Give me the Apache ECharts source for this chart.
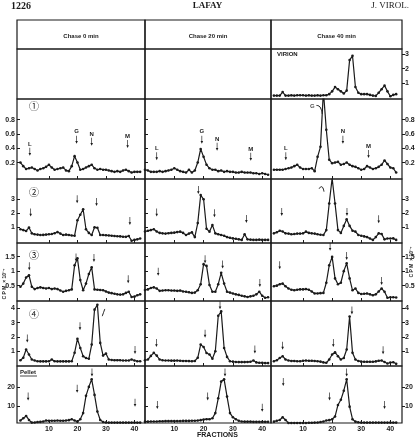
<!DOCTYPE html>
<html>
<head>
<meta charset="utf-8">
<script src="https://cdn.jsdelivr.net/npm/echarts@6/dist/echarts.min.js"></script>
<style>
html,body{margin:0;padding:0;background:#fff}
#main{width:415px;height:439px}
</style>
</head>
<body>
<div id="main"></div>
<script>
// fraction numbers (x) shared by every profile
var fractions = [0,1,2,3,4,5,6,7,8,9,10,11,12,13,14,15,16,17,18,19,20,21,22,23,24,25,26,27,28,29,30,31,32,33,34,35,36,37,38,39,40,41,42];
var chases = ['Chase 0 min', 'Chase 20 min', 'Chase 40 min'];
var xTicks = [10, 20, 30, 40];

// row 0 : virion (chase 40 only)
var virion40 = [0.1,0.1,0.1,0.35,0.1,0.1,0.12,0.1,0.12,0.12,0.12,0.1,0.12,0.1,0.1,0.12,0.1,0.12,0.12,0.2,0.4,0.7,0.55,0.4,0.25,0.45,2.6,2.9,0.7,0.3,0.2,0.2,0.2,0.15,0.1,0.08,0.3,0.55,0.8,0.4,0.05,0.15,0.2];
// row 1
var p1chase0 = [0.2,0.15,0.11,0.12,0.13,0.11,0.09,0.11,0.12,0.14,0.17,0.13,0.1,0.11,0.12,0.13,0.09,0.08,0.15,0.29,0.2,0.1,0.11,0.13,0.15,0.17,0.12,0.1,0.11,0.1,0.1,0.09,0.08,0.07,0.08,0.07,0.09,0.1,0.08,0.06,0.07,0.07,0.07];
var p1chase20 = [0.1,0.09,0.07,0.07,0.07,0.08,0.07,0.08,0.09,0.1,0.12,0.1,0.08,0.07,0.06,0.1,0.06,0.09,0.2,0.39,0.28,0.17,0.12,0.1,0.1,0.08,0.09,0.07,0.08,0.07,0.07,0.06,0.06,0.07,0.06,0.06,0.06,0.05,0.05,0.04,0.05,0.04,0.03];
var p1chase40 = [0.1,0.1,0.1,0.1,0.11,0.12,0.13,0.15,0.17,0.13,0.11,0.11,0.11,0.12,0.08,0.28,0.42,1.2,0.66,0.24,0.19,0.2,0.21,0.17,0.18,0.2,0.17,0.15,0.14,0.12,0.1,0.11,0.15,0.13,0.11,0.12,0.14,0.17,0.23,0.18,0.13,0.12,0.06];
// row 2
var p2chase0 = [0.86,0.8,0.74,0.98,0.57,0.5,0.48,0.45,0.46,0.48,0.5,0.52,0.58,0.66,0.55,0.45,0.48,0.45,0.42,0.4,1.5,1.9,2.29,0.86,0.6,0.45,1.0,0.97,0.45,0.45,0.43,0.42,0.4,0.38,0.36,0.35,0.33,0.32,0.38,0.04,0.1,0.14,0.2];
var p2chase20 = [0.7,0.75,0.8,0.86,0.7,0.6,0.57,0.55,0.58,0.6,0.62,0.66,0.69,0.6,0.45,0.55,0.64,0.3,1.3,3.3,3.0,0.9,0.69,1.16,0.57,0.5,0.45,0.4,0.3,0.25,0.21,0.18,0.14,0.1,0.5,0.14,0.12,0.1,0.1,0.12,0.1,0.1,0.1];
var p2chase40 = [0.57,0.65,0.76,0.7,0.57,0.55,0.5,0.52,0.55,0.55,0.57,0.69,0.6,0.57,0.55,0.5,0.47,0.45,0.8,2.7,4.5,2.7,0.8,0.6,1.1,1.57,1.1,0.76,0.69,0.45,0.4,0.35,0.3,0.2,0.1,0.3,0.57,0.52,0.14,0.2,0.2,0.21,0.1];
// row 3
var p3chase0 = [0.46,0.57,0.78,0.86,0.46,0.38,0.42,0.44,0.42,0.4,0.42,0.38,0.4,0.38,0.33,0.29,0.32,0.34,0.37,1.2,1.44,0.69,0.34,0.57,0.9,1.13,0.37,0.36,0.35,0.34,0.3,0.26,0.24,0.22,0.2,0.19,0.2,0.25,0.29,0.11,0.12,0.17,0.2];
var p3chase20 = [0.35,0.37,0.42,0.44,0.4,0.32,0.33,0.34,0.34,0.33,0.33,0.32,0.33,0.3,0.29,0.27,0.25,0.26,0.34,0.55,1.24,1.18,0.52,0.29,0.29,0.55,0.94,0.57,0.29,0.26,0.23,0.2,0.18,0.15,0.13,0.11,0.13,0.15,0.2,0.29,0.15,0.08,0.1];
var p3chase40 = [0.48,0.5,0.55,0.57,0.48,0.4,0.36,0.34,0.36,0.37,0.37,0.38,0.36,0.3,0.23,0.23,0.24,0.25,0.6,1.2,1.49,0.75,0.55,0.6,1.0,1.27,0.75,0.34,0.4,0.25,0.21,0.22,0.23,0.2,0.17,0.2,0.3,0.4,0.29,0.08,0.1,0.1,0.09];
// row 4
var p4chase0 = [0.4,0.57,1.14,0.8,0.45,0.38,0.33,0.32,0.32,0.32,0.33,0.45,0.33,0.32,0.32,0.32,0.32,0.32,0.33,0.91,1.88,1.25,0.68,0.55,0.5,1.48,3.9,4.24,1.6,0.72,0.86,0.45,0.42,0.4,0.4,0.4,0.38,0.38,0.38,0.45,0.38,0.33,0.33];
var p4chase20 = [0.4,0.45,0.7,0.91,0.72,0.45,0.4,0.38,0.38,0.37,0.37,0.38,0.36,0.35,0.35,0.34,0.33,0.35,0.57,1.48,1.32,0.9,0.8,0.5,1.02,3.48,3.78,1.25,0.63,0.33,0.3,0.28,0.27,0.27,0.27,0.28,0.29,0.38,0.25,0.22,0.22,0.2,0.2];
var p4chase40 = [0.33,0.4,0.55,0.68,0.45,0.38,0.35,0.35,0.33,0.33,0.36,0.38,0.36,0.36,0.35,0.33,0.3,0.25,0.22,0.45,0.8,0.95,0.68,0.45,0.55,1.14,3.43,0.91,0.45,0.35,0.3,0.29,0.29,0.29,0.29,0.32,0.36,0.38,0.28,0.17,0.24,0.26,0.15];
// row 5 : pellet
var pelletChase0 = [2.3,3.5,4.7,2.6,1.2,1.3,1.5,1.6,1.8,2.3,2.2,2.2,2.2,2.3,2.2,2.2,2.3,2.5,3.0,2.3,1.7,3.0,6.2,15.3,20,24,15.8,7,2.6,1.5,1.3,1.2,1.2,1.2,1.2,1.2,1.2,1.2,1.2,1.2,1.2,1.2,1.2];
var pelletChase20 = [1.7,1.7,1.8,1.8,1.8,1.9,1.9,2,2,2,2,2,2,2.1,2.1,2.1,2.2,2.2,2.3,2.5,2.8,3,3,3.5,6.2,14,22.8,24,14.9,6.2,4,3,2.2,1.8,1.7,1.7,1.7,1.6,1.6,1.6,1.6,1.6,1.6];
var pelletChase40 = [1.7,2.2,2.6,4,2.6,1,1,1,1,1,1,1,1.1,1.1,1.2,1.3,1.5,1.8,2.3,2.5,3,4.4,10.5,13.2,18,24,9.6,3,1.7,1.4,1.2,1.2,1.2,1.2,1.2,1.2,1.2,1.2,1.2,1.2,1.2,1.2,1.2];

// marker arrows [label, fraction, value]
var arrows1 = [
  [['L',3.3,0.35],['G',19.7,0.52],['N',25,0.49],['M',37.6,0.46]],
  [['L',4,0.29],['G',19.4,0.52],['N',24.6,0.42],['M',36.1,0.28]],
  [['L',4.1,0.29],['N',23.7,0.52],['M',32.5,0.32]]
];
var arrows2 = [
  [['',3.6,2.06],['',19.9,3.0],['',26.7,2.8],['',38.4,1.45]],
  [['',4,2.06],['',18.2,3.66],['',23.7,2.0],['',34.6,1.6]],
  [['',2.7,2.1],['',25.1,2.1],['',36,1.57]]
];
var arrows3 = [
  [['',3.1,1.17],['',19.5,1.47],['',25.8,1.45],['',37.8,0.72]],
  [['',4.5,0.98],['',20.5,1.41],['',26.5,1.23],['',39.2,0.59]],
  [['',2,1.2],['',19.3,1.84],['',25,1.52],['',37,0.66]]
];
var arrows4 = [
  [['',2.4,1.9],['',20.9,2.76],['',40.2,1.1]],
  [['',3.9,1.59],['',20.5,2.24],['',25.6,4.2],['',37.5,1.14]],
  [['',3,1.41],['',20.4,1.59],['',26.8,3.85],['',37.5,1.09]]
];
var arrows5 = [
  [['',2.7,14.9],['',19.9,19],['',25.1,27.6],['',40.2,11.6]],
  [['',4.2,10.5],['',21.4,15],['',27.3,27.6],['',40,9]],
  [['',3.2,22.6],['',19.1,15],['',25,27.6],['',38,10.5]]
];
// little hand-drawn hooks pointing at a peak [row, col, points]
var hooks = [
  [1, 2, [[14.6,1.0],[15.8,0.98],[16.6,0.88]]],
  [2, 2, [[15.4,3.75],[16.4,3.9],[17.2,3.55]]],
  [4, 0, [[28.7,3.45],[29.6,3.95]]]
];
var hookLabels = [[1, 2, 'G', 13.2, 0.99]];

var yTicks0 = [1,2,3];
var yTicks1 = [0.2,0.4,0.6,0.8];
var yTicks2 = [1,2,3];
var yTicks3 = [0.5,1,1.5];
var yTicks4 = [1,2,3,4];
var yTicks5 = [10,20];

var profiles = [
  [null, null, virion40],
  [p1chase0, p1chase20, p1chase40],
  [p2chase0, p2chase20, p2chase40],
  [p3chase0, p3chase20, p3chase40],
  [p4chase0, p4chase20, p4chase40],
  [pelletChase0, pelletChase20, pelletChase40]
];
var arrowSets = [[[],[],[]], arrows1, arrows2, arrows3, arrows4, arrows5];
var yTickSets = [yTicks0, yTicks1, yTicks2, yTicks3, yTicks4, yTicks5];

// layout
var colX = [[17,145],[145,271],[271,402]];
var rowY = [[49,99],[99,179],[179,243],[243,301],[301,366],[366,423]];
var xRange = [[-1.2,43.7],[0,43],[-1,44]];
var yRange = [[-0.14,3.38],[-0.03,1.09],[-0.12,4.45],[-0.03,1.97],[0,4.5],[1,31]];

var ink = '#1a1a1a';
var arrowPath = 'path://M3,0 L5,0 L5,13 L8,13 L4,20 L0,13 L3,13 Z';

var grids = [], xAxes = [], yAxes = [], series = [];
function gi(r, c) { return r * 3 + c; }

for (var r = 0; r < 6; r++) {
  for (var c = 0; c < 3; c++) {
    var g = gi(r, c);
    var hasData = !!profiles[r][c];
    grids.push({
      left: colX[c][0], top: rowY[r][0],
      width: colX[c][1] - colX[c][0], height: rowY[r][1] - rowY[r][0],
      show: true, borderColor: ink, borderWidth: 1.2,
      backgroundColor: 'transparent', outerBoundsMode: 'none'
    });
    xAxes.push({
      gridIndex: g, type: 'value', min: xRange[c][0], max: xRange[c][1],
      show: hasData, position: 'bottom',
      axisLine: {show: false, onZero: false}, splitLine: {show: false},
      axisTick: {show: r > 0, inside: true, length: 3, customValues: xTicks, lineStyle: {color: ink, width: 1}},
      axisLabel: {show: r === 5, customValues: xTicks, fontSize: 7, fontWeight: 'bold',
                  fontFamily: 'Liberation Sans', color: ink, margin: 3}
    });
    yAxes.push({
      gridIndex: g, type: 'value', min: yRange[r][0], max: yRange[r][1],
      show: hasData || (r > 0), position: c === 2 ? 'right' : 'left',
      axisLine: {show: false, onZero: false}, splitLine: {show: false},
      axisTick: {show: true, inside: c !== 2, length: 3, customValues: yTickSets[r], lineStyle: {color: ink, width: 1}},
      axisLabel: {show: c !== 1, customValues: yTickSets[r], fontSize: 7, fontWeight: 'bold',
                  fontFamily: 'Liberation Sans', color: ink, margin: c === 2 ? 3 : 2}
    });
    if (!hasData) continue;
    var pts = profiles[r][c].map(function (v, i) { return [fractions[i], v]; });
    series.push({
      type: 'line', xAxisIndex: g, yAxisIndex: g, data: pts,
      symbol: 'circle', symbolSize: 2.6, clip: true, silent: true,
      lineStyle: {color: ink, width: 1.2}, itemStyle: {color: ink},
      markPoint: {
        silent: true, symbol: arrowPath, symbolSize: [2.6, 8],
        itemStyle: {color: ink},
        label: {show: true, position: 'top', distance: 1, formatter: '{b}',
                fontSize: 6, fontWeight: 'bold', fontFamily: 'Liberation Sans', color: ink},
        data: arrowSets[r][c].map(function (a) { return {name: a[0], coord: [a[1], a[2]]}; })
      }
    });
  }
}
// header row (chase titles)
for (var c2 = 0; c2 < 3; c2++) {
  var gh = grids.length;
  grids.push({left: colX[c2][0], top: 20, width: colX[c2][1] - colX[c2][0], height: 29,
              show: true, borderColor: ink, borderWidth: 1.2, backgroundColor: 'transparent', outerBoundsMode: 'none'});
  xAxes.push({gridIndex: gh, type: 'value', show: false, min: 0, max: 1});
  yAxes.push({gridIndex: gh, type: 'value', show: false, min: 0, max: 1});
}
hooks.forEach(function (h) {
  var g = gi(h[0], h[1]);
  series.push({type: 'line', xAxisIndex: g, yAxisIndex: g, data: h[2], smooth: true,
               symbol: 'none', silent: true, lineStyle: {color: ink, width: 1}});
});
hookLabels.forEach(function (h) {
  var g = gi(h[0], h[1]);
  series.push({type: 'scatter', xAxisIndex: g, yAxisIndex: g, data: [[h[3], h[4]]],
               symbolSize: 0, silent: true,
               label: {show: true, formatter: h[2], position: 'inside', fontSize: 6, fontWeight: 'bold',
                       fontFamily: 'Liberation Sans', color: ink}});
});

var serif = 'Liberation Serif';
var unitText = 'C P M  \u00d7 10\u207b\u2074';
var graphic = [
  {type: 'text', left: 11, top: 1, style: {text: '1226', font: 'bold 10px ' + serif, fill: ink}},
  {type: 'text', left: 'center', top: 1, style: {text: 'LAFAY', font: 'bold 9px ' + serif, fill: ink}},
  {type: 'text', right: 6, top: 1, style: {text: 'J. VIROL.', font: '9px ' + serif, fill: ink}},
  {type: 'text', left: 277, top: 51, style: {text: 'VIRION', font: 'bold 6px Liberation Sans', fill: ink}},
  {type: 'text', left: 20, top: 369, style: {text: 'Pellet', font: 'bold 6px Liberation Sans', fill: ink}},
  {type: 'line', shape: {x1: 20, y1: 376, x2: 37, y2: 376}, style: {stroke: ink, lineWidth: 0.8}},
  {type: 'text', left: 197, top: 432, style: {text: 'FRACTIONS', font: 'bold 7px Liberation Sans', fill: ink}},
  {type: 'text', x: 5, y: 284, rotation: Math.PI / 2,
   style: {text: unitText, font: 'bold 5px Liberation Sans', fill: ink, align: 'center', verticalAlign: 'middle'}},
  {type: 'text', x: 412, y: 262, rotation: Math.PI / 2,
   style: {text: unitText, font: 'bold 5px Liberation Sans', fill: ink, align: 'center', verticalAlign: 'middle'}}
];
var circled = ['\u2460', '\u2461', '\u2462', '\u2463'];
var circledTop = [101, 187, 250, 309];
circled.forEach(function (s, i) {
  graphic.push({type: 'text', left: 29, top: circledTop[i],
                style: {text: s, font: '10px "Noto Sans CJK JP"', fill: ink}});
});
chases.forEach(function (s, i) {
  graphic.push({type: 'text', x: (colX[i][0] + colX[i][1]) / 2, y: 36,
                style: {text: s, font: 'bold 6px Liberation Sans', fill: ink, align: 'center', verticalAlign: 'middle'}});
});

var chart = echarts.init(document.getElementById('main'), null, {renderer: 'canvas'});
chart.setOption({
  animation: false,
  grid: grids, xAxis: xAxes, yAxis: yAxes, series: series, graphic: graphic
});
</script>
</body>
</html>
